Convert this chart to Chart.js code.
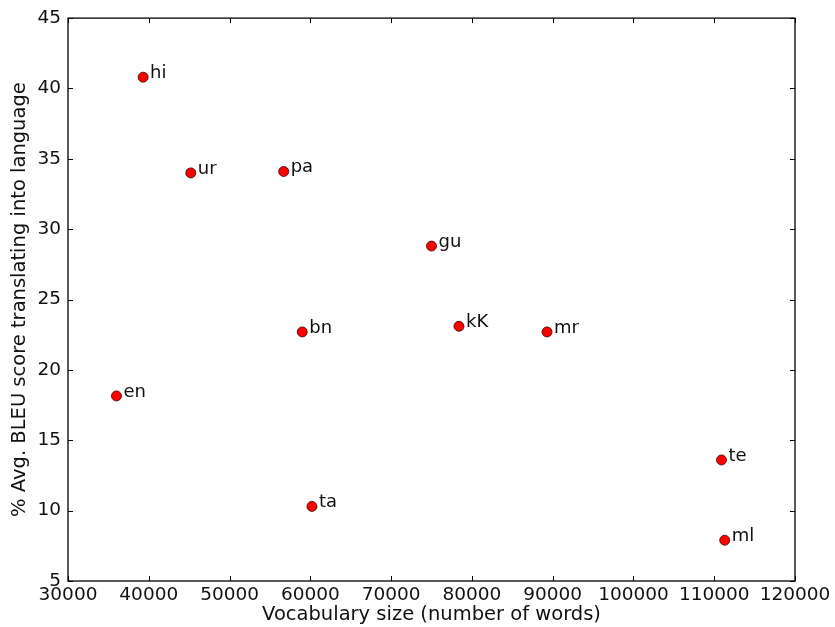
<!DOCTYPE html>
<html>
<head>
<meta charset="utf-8">
<script src="https://cdn.jsdelivr.net/npm/chart.js@4"></script>
<style>
html,body{margin:0;padding:0;background:#fff;}
#wrap{width:835px;height:627px;}
</style>
</head>
<body>
<div id="wrap"><canvas id="c" width="835" height="627"></canvas></div>
<script>
const languages = ["hi","ur","pa","gu","kK","mr","bn","en","ta","te","ml"];
const vocabSize = [39300,45200,56700,75000,78400,89300,59000,36000,60200,110900,111300];
const bleuScore = [40.8,34.0,34.1,28.8,23.1,22.7,22.7,18.15,10.3,13.6,7.9];
const xTicks = [30000,40000,50000,60000,70000,80000,90000,100000,110000,120000];
const yTicks = [5,10,15,20,25,30,35,40,45];

const FONT = "'DejaVu Sans', sans-serif";

const points = vocabSize.map((v,i)=>({x:v,y:bleuScore[i]}));

const framePlugin = {
  id:'frame',
  afterDatasetsDraw(chart){
    const {ctx, chartArea:a, scales} = chart;
    ctx.save();
    ctx.strokeStyle = '#000';
    ctx.lineWidth = 1;
    const len = 5;
    xTicks.forEach(t=>{
      const px = Math.round(scales.x.getPixelForValue(t))+0.5;
      ctx.beginPath();
      ctx.moveTo(px,a.bottom); ctx.lineTo(px,a.bottom-len);
      ctx.moveTo(px,a.top); ctx.lineTo(px,a.top+len);
      ctx.stroke();
    });
    yTicks.forEach(t=>{
      const py = Math.round(scales.y.getPixelForValue(t))+0.5;
      ctx.beginPath();
      ctx.moveTo(a.left,py); ctx.lineTo(a.left+len,py);
      ctx.moveTo(a.right,py); ctx.lineTo(a.right-len,py);
      ctx.stroke();
    });
    ctx.lineWidth = 1.3;
    ctx.strokeRect(a.left, a.top, a.right-a.left, a.bottom-a.top);
    ctx.fillStyle = '#111';
    ctx.font = "18px " + FONT;
    ctx.textAlign = 'left';
    ctx.textBaseline = 'alphabetic';
    const meta = chart.getDatasetMeta(0);
    meta.data.forEach((el,i)=>{
      ctx.fillText(languages[i], el.x + 7, el.y + 1);
    });
    ctx.restore();
  }
};

new Chart(document.getElementById('c'), {
  type:'scatter',
  data:{datasets:[{
    data: points,
    backgroundColor:'#ff0000',
    borderColor:'#3a0000',
    borderWidth:0.8,
    pointRadius:5,
    pointHoverRadius:5
  }]},
  options:{
    responsive:false,
    animation:false,
    events:[],
    layout:{padding:{left:0,top:17,right:40,bottom:0}},
    plugins:{legend:{display:false},tooltip:{enabled:false}},
    scales:{
      x:{
        type:'linear', min:30000, max:120000,
        afterBuildTicks(s){ s.ticks = xTicks.map(v=>({value:v})); },
        afterFit(s){ s.height = 46; },
        grid:{display:false, drawTicks:false},
        border:{display:false},
        ticks:{color:'#111', font:{family:FONT,size:18.5}, padding:3, maxRotation:0, autoSkip:false,
          callback:v=>String(v)},
        title:{display:true, text:'Vocabulary size (number of words)', color:'#111',
          font:{family:FONT,size:19.5}, padding:{top:0,bottom:0}}
      },
      y:{
        type:'linear', min:5, max:45,
        afterBuildTicks(s){ s.ticks = yTicks.map(v=>({value:v})); },
        afterFit(s){ s.width = 68; },
        grid:{display:false, drawTicks:false},
        border:{display:false},
        ticks:{color:'#111', font:{family:FONT,size:18.5}, padding:7, autoSkip:false,
          callback:v=>String(v)},
        title:{display:true, text:'% Avg. BLEU score translating into language', color:'#111',
          font:{family:FONT,size:19.5}, padding:{top:8,bottom:4}}
      }
    }
  },
  plugins:[framePlugin]
});
</script>
</body>
</html>
